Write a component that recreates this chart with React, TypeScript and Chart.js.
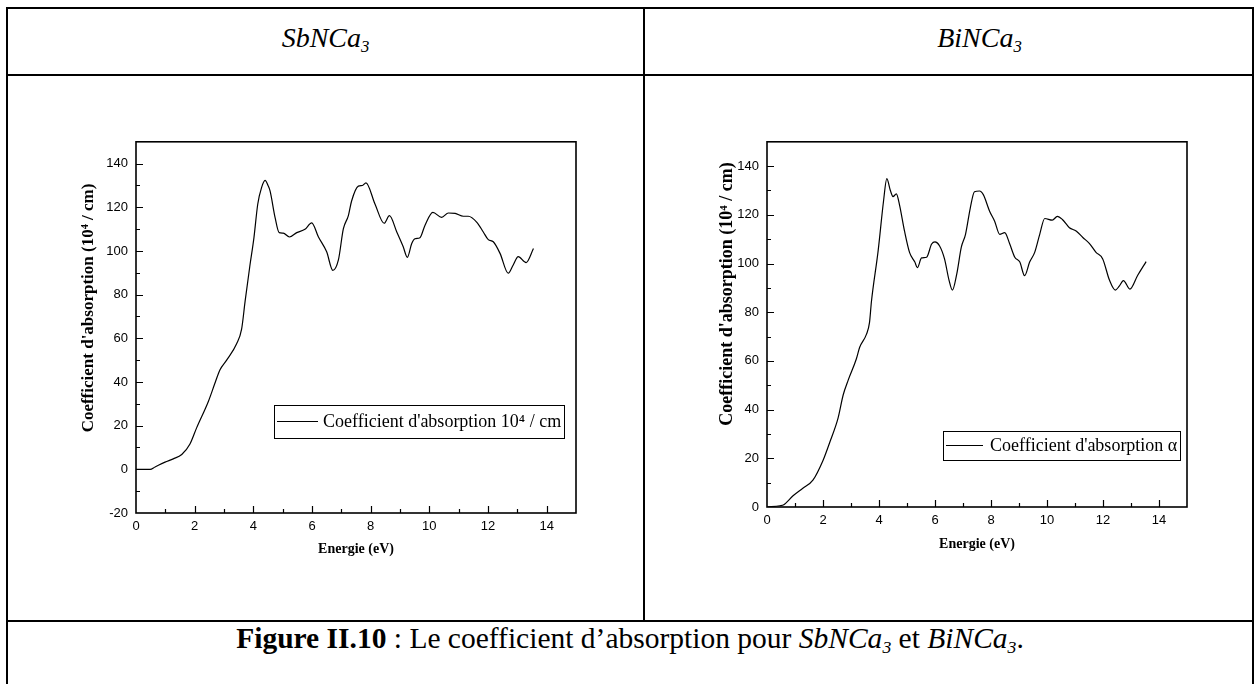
import React, { useEffect, useRef } from "react";
import { Chart, registerables } from "chart.js";

Chart.register(...registerables);

// ---- Data ----
const sbEnergy = [0, 0.48, 0.65, 0.99, 1.27, 1.56, 1.84, 2.07, 2.47, 2.69, 2.86, 3.09, 3.43, 3.6, 3.72, 3.88, 4.02, 4.15, 4.28, 4.4, 4.5, 4.57, 4.74, 4.88, 5.02, 5.23, 5.48, 5.76, 5.99, 6.22, 6.5, 6.71, 6.9, 7.07, 7.24, 7.35, 7.58, 7.72, 7.84, 8.15, 8.46, 8.64, 8.89, 9.11, 9.25, 9.4, 9.51, 9.68, 9.85, 10.12, 10.42, 10.65, 10.88, 11.16, 11.33, 11.62, 11.84, 12.01, 12.18, 12.41, 12.69, 12.86, 13.03, 13.3, 13.55];
const sbAbsorption = [0, 0, 1.1, 3.3, 4.8, 6.8, 11.6, 19.1, 31.2, 39.4, 45.5, 50, 57.5, 64.2, 77, 93, 106, 121.4, 129, 132.3, 130, 127.5, 115.4, 108.4, 108.2, 106.4, 108.4, 109.9, 112.9, 106.4, 99.6, 91.1, 95.9, 110.2, 116.2, 122.9, 129.7, 130, 131.2, 121.4, 112.7, 116.2, 108.7, 101.9, 97.1, 103.4, 105.6, 106.1, 111.7, 117.7, 115.4, 117.4, 117.2, 115.9, 115.9, 113.1, 108.7, 105.2, 104.2, 98.9, 89.8, 93.6, 97.4, 94.7, 101.1];

const biEnergy = [0, 0.46, 0.6, 0.93, 1.28, 1.64, 2.0, 2.24, 2.54, 2.72, 2.9, 3.19, 3.31, 3.55, 3.66, 3.73, 3.97, 4.16, 4.28, 4.4, 4.5, 4.62, 4.73, 4.91, 5.09, 5.28, 5.37, 5.52, 5.7, 5.88, 6.0, 6.16, 6.34, 6.5, 6.62, 6.78, 6.94, 7.09, 7.26, 7.41, 7.59, 7.73, 7.95, 8.13, 8.31, 8.49, 8.67, 8.85, 9.03, 9.2, 9.38, 9.56, 9.74, 9.92, 10.19, 10.37, 10.55, 10.8, 11.04, 11.28, 11.51, 11.75, 11.99, 12.23, 12.44, 12.58, 12.73, 12.96, 13.24, 13.54];
const biAbsorption = [0, 0.5, 0.9, 4.6, 7.7, 11, 19.1, 26.5, 36.6, 46, 52.1, 60.8, 65.6, 70.9, 75.7, 84.4, 105.3, 125.5, 134.9, 130.2, 127.5, 128.6, 124.2, 113.4, 104.6, 100.6, 98.3, 102.3, 102.6, 108, 108.9, 107.3, 101.9, 93.2, 89.1, 95.9, 106.7, 112, 122.8, 129.5, 129.8, 128.2, 121.5, 117.4, 112, 112.7, 108, 102.6, 100.6, 95, 100.6, 104.6, 112, 118.5, 117.8, 119.4, 118.1, 114.7, 113.4, 110.7, 108.3, 104.6, 101.9, 93.2, 89.1, 90.7, 93, 89.5, 95.2, 100.8];

const xTickValues = [0, 2, 4, 6, 8, 10, 12, 14];
const sbYTickValues = [-20, 0, 20, 40, 60, 80, 100, 120, 140];
const biYTickValues = [0, 20, 40, 60, 80, 100, 120, 140];

const sbLegendLabel = "Coefficient d'absorption 10⁴ / cm";
const biLegendLabel = "Coefficient d'absorption α";
const xTitle = "Energie (eV)";
const yTitle = "Coefficient d'absorption (10⁴ / cm)";

const SERIF = '"Liberation Serif", "Times New Roman", serif';
const SANS = '"Liberation Sans", Arial, sans-serif';

const frameTicksPlugin = {
  id: "frameTicks",
  afterDraw(chart: any, _args: any, opts: any) {
    const { ctx, chartArea: a } = chart;
    const xs = chart.scales.x;
    const ys = chart.scales.y;
    ctx.save();
    ctx.strokeStyle = "#000";
    ctx.lineWidth = 1.2;
    ctx.beginPath();
    for (let v = xs.min + opts.xMinor; v < xs.max - 1e-9; v += opts.xMinor) {
      const px = Math.round(xs.getPixelForValue(v)) + 0.5;
      const r = v / opts.xMajor;
      const major = Math.abs(r - Math.round(r)) < 1e-6;
      ctx.moveTo(px, a.bottom);
      ctx.lineTo(px, a.bottom - (major ? 7 : 4));
    }
    for (let v = ys.min + opts.yMinor; v < ys.max - 1e-9; v += opts.yMinor) {
      const py = Math.round(ys.getPixelForValue(v)) + 0.5;
      const r = v / opts.yMajor;
      const major = Math.abs(r - Math.round(r)) < 1e-6;
      ctx.moveTo(a.left, py);
      ctx.lineTo(a.left + (major ? 7 : 4), py);
    }
    ctx.stroke();
    ctx.lineWidth = 1.6;
    ctx.strokeRect(a.left, a.top, a.right - a.left, a.bottom - a.top);

    // rotated y-axis title
    ctx.save();
    ctx.translate(opts.titleX, opts.titleY);
    ctx.rotate(-Math.PI / 2);
    ctx.font = `bold ${opts.titleSize}px ${SERIF}`;
    ctx.fillStyle = "#000";
    ctx.textAlign = "center";
    ctx.textBaseline = "middle";
    ctx.fillText(opts.titleText, 0, 0);
    ctx.restore();
    ctx.restore();
  },
};

const boxLegendPlugin = {
  id: "boxLegend",
  afterDraw(chart: any, _args: any, opts: any) {
    const { ctx, chartArea: a } = chart;
    const text = chart.data.datasets[0].label;
    ctx.save();
    ctx.font = opts.font;
    const tw = ctx.measureText(text).width;
    const x0 = Math.round(a.left + opts.dx);
    const y0 = Math.round(a.top + opts.dy);
    const w = Math.round(opts.padL + opts.lineLen + opts.gap + tw + opts.padR);
    ctx.fillStyle = "#fff";
    ctx.fillRect(x0, y0, w, opts.h);
    ctx.strokeStyle = "#000";
    ctx.lineWidth = 1;
    ctx.strokeRect(x0 + 0.5, y0 + 0.5, w, opts.h);
    const cy = y0 + opts.h / 2;
    ctx.beginPath();
    ctx.lineWidth = 1.2;
    ctx.moveTo(x0 + opts.padL, cy);
    ctx.lineTo(x0 + opts.padL + opts.lineLen, cy);
    ctx.stroke();
    ctx.fillStyle = "#000";
    ctx.textBaseline = "middle";
    ctx.textAlign = "left";
    ctx.fillText(text, x0 + opts.padL + opts.lineLen + opts.gap, cy + opts.textDy);
    ctx.restore();
  },
};

type ChartProps = {
  energies: number[];
  values: number[];
  label: string;
  yMin: number;
  yTicks: number[];
  width: number;
  height: number;
  yAxisWidth: number;
  xAxisHeight: number;
  padTop: number;
  padRight: number;
  frame: any;
  legend: any;
};

function AbsorptionChart(p: ChartProps) {
  const ref = useRef<HTMLCanvasElement | null>(null);
  useEffect(() => {
    if (!ref.current) return;
    const points = p.energies.map((e, i) => ({ x: e, y: p.values[i] }));
    const chart = new Chart(ref.current, {
      type: "line",
      data: {
        datasets: [
          {
            label: p.label,
            data: points,
            borderColor: "#000",
            borderWidth: 1.2,
            pointRadius: 0,
            fill: false,
            cubicInterpolationMode: "monotone",
          },
        ],
      },
      options: {
        responsive: false,
        animation: false,
        devicePixelRatio: 1,
        layout: { padding: { top: p.padTop, right: p.padRight, left: 0, bottom: 0 } },
        plugins: {
          legend: { display: false },
          tooltip: { enabled: false },
          frameTicks: { xMinor: 1, xMajor: 2, yMinor: 10, yMajor: 20, titleText: yTitle, ...p.frame },
          boxLegend: p.legend,
        } as any,
        scales: {
          x: {
            type: "linear",
            min: 0,
            max: 15,
            grid: { display: false, drawTicks: false },
            border: { display: false },
            ticks: { color: "#000", font: { family: SANS, size: 13 }, padding: 6, autoSkip: false, maxRotation: 0 },
            afterBuildTicks: (s: any) => {
              s.ticks = xTickValues.map((v) => ({ value: v }));
            },
            afterFit: (s: any) => {
              s.height = p.xAxisHeight;
            },
            title: { display: true, text: xTitle, color: "#000", font: { family: SERIF, size: 14, weight: "bold" }, padding: 0 },
          },
          y: {
            type: "linear",
            min: p.yMin,
            max: 150,
            grid: { display: false, drawTicks: false },
            border: { display: false },
            ticks: { color: "#000", font: { family: SANS, size: 13 }, padding: 8, autoSkip: false },
            afterBuildTicks: (s: any) => {
              s.ticks = p.yTicks.map((v) => ({ value: v }));
            },
            afterFit: (s: any) => {
              s.width = p.yAxisWidth;
            },
            title: { display: false },
          },
        },
      } as any,
      plugins: [frameTicksPlugin, boxLegendPlugin],
    });
    return () => chart.destroy();
  }, []);
  return <canvas ref={ref} width={p.width} height={p.height} style={{ display: "block" }} />;
}

const line = (left: number, top: number, width: number, height: number) => (
  <div style={{ position: "absolute", left, top, width, height, background: "#000" }} />
);

const subStyle: React.CSSProperties = { fontSize: "0.6em", verticalAlign: "-0.3em", lineHeight: 0 };

export default function App() {
  return (
    <div
      style={{
        position: "absolute",
        left: 0,
        top: 0,
        width: 1259,
        height: 684,
        overflow: "hidden",
        background: "#fff",
        fontFamily: SERIF,
        color: "#000",
      }}
    >
      {line(6, 7, 1248, 2)}
      {line(6, 74, 1248, 2)}
      {line(6, 620, 1248, 2)}
      {line(6, 7, 2, 677)}
      {line(643, 7, 2, 614)}
      {line(1252, 7, 2, 677)}

      <div style={{ position: "absolute", left: 8, top: 22, width: 635, textAlign: "center", fontSize: 28, lineHeight: "32px", fontStyle: "italic" }}>
        SbNCa<sub style={subStyle}>3</sub>
      </div>
      <div style={{ position: "absolute", left: 645, top: 22, width: 607, paddingLeft: 62, boxSizing: "border-box", textAlign: "center", fontSize: 28, lineHeight: "32px", fontStyle: "italic" }}>
        BiNCa<sub style={subStyle}>3</sub>
      </div>

      <div style={{ position: "absolute", left: 80, top: 126 }}>
        <AbsorptionChart
          energies={sbEnergy}
          values={sbAbsorption}
          label={sbLegendLabel}
          yMin={-20}
          yTicks={sbYTickValues}
          width={516}
          height={432}
          yAxisWidth={56}
          xAxisHeight={45}
          padTop={10}
          padRight={20}
          frame={{ titleX: 9, titleY: 182, titleSize: 17 }}
          legend={{ dx: 138, dy: 263, h: 33, padL: 3, lineLen: 41, gap: 5, padR: 3, textDy: 1, font: `18px ${SERIF}` }}
        />
      </div>
      <div style={{ position: "absolute", left: 719, top: 126 }}>
        <AbsorptionChart
          energies={biEnergy}
          values={biAbsorption}
          label={biLegendLabel}
          yMin={0}
          yTicks={biYTickValues}
          width={488}
          height={427}
          yAxisWidth={48}
          xAxisHeight={46}
          padTop={10}
          padRight={20}
          frame={{ titleX: 8, titleY: 168, titleSize: 18 }}
          legend={{ dx: 176, dy: 289, h: 29, padL: 3, lineLen: 37, gap: 7, padR: 3, textDy: 1, font: `18px ${SERIF}` }}
        />
      </div>

      <div style={{ position: "absolute", left: 8, top: 622, width: 1244, textAlign: "center", fontSize: 29.5, lineHeight: "33px" }}>
        <b>Figure II.10</b> : Le coefficient d’absorption pour{" "}
        <i>
          SbNCa<sub style={subStyle}>3</sub>
        </i>{" "}
        et{" "}
        <i>
          BiNCa<sub style={subStyle}>3</sub>
        </i>
        .
      </div>
    </div>
  );
}
